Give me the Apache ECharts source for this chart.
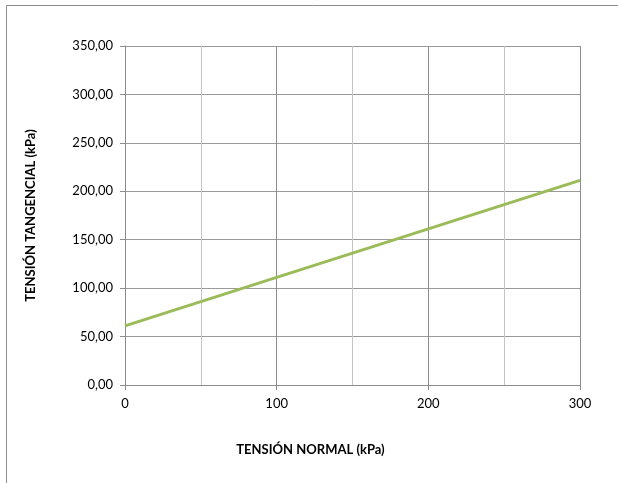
<!DOCTYPE html>
<html>
<head>
<meta charset="utf-8">
<script src="https://cdn.jsdelivr.net/npm/echarts@6/dist/echarts.min.js"></script>
<style>
  html, body { margin: 0; padding: 0; background: #fff; }
  #chart { width: 618px; height: 483px; }
</style>
</head>
<body>
<div id="chart"></div>
<script>
// Shear envelope: normal stress vs. tangential stress (kPa)
const normalStress = [0, 300];
const tangentialStress = [61, 211.3];

const xTitle = 'TENSIÓN NORMAL (kPa)';
const yTitle = 'TENSIÓN TANGENCIAL (kPa)';

const chart = echarts.init(document.getElementById('chart'));
const font = 'Lato, "Open Sans", sans-serif';

chart.setOption({
  animation: false,
  grid: { left: 125, right: 38, top: 46, bottom: 98, containLabel: false },
  graphic: [{
    type: 'rect',
    shape: { x: 6.5, y: 5.5, width: 700, height: 600 },
    style: { fill: 'none', stroke: '#8c8c8c', lineWidth: 1 },
    silent: true
  }],
  xAxis: {
    type: 'value',
    min: 0, max: 300, interval: 100,
    name: xTitle,
    nameLocation: 'middle',
    nameGap: 58,
    nameTextStyle: {
      fontFamily: font, fontWeight: 'bold', fontSize: 13, color: '#000',
      padding: [0, 84, 0, 0]
    },
    axisLine: { show: true, lineStyle: { color: '#8c8c8c', width: 1 } },
    axisTick: { show: true, length: 5, lineStyle: { color: '#8c8c8c' } },
    axisLabel: { fontFamily: font, fontSize: 13, color: '#000', margin: 12 },
    splitLine: { show: true, lineStyle: { color: '#8c8c8c', width: 1 } },
    minorTick: { show: false, splitNumber: 2 },
    minorSplitLine: { show: true, lineStyle: { color: '#c4c4c4', width: 1 } }
  },
  yAxis: {
    type: 'value',
    min: 0, max: 350, interval: 50,
    name: yTitle,
    nameLocation: 'middle',
    nameGap: 88,
    nameRotate: 90,
    nameTextStyle: { fontFamily: font, fontWeight: 'bold', fontSize: 13, color: '#000' },
    axisLine: { show: true, lineStyle: { color: '#8c8c8c', width: 1 } },
    axisTick: { show: true, length: 5, lineStyle: { color: '#8c8c8c' } },
    axisLabel: {
      fontFamily: font, fontSize: 13, color: '#000', margin: 12,
      formatter: v => v.toFixed(2).replace('.', ',')
    },
    splitLine: { show: true, lineStyle: { color: '#9a9a9a', width: 1 } }
  },
  series: [{
    type: 'line',
    data: normalStress.map((x, i) => [x, tangentialStress[i]]),
    showSymbol: false,
    lineStyle: { color: '#9bbb59', width: 3 },
    itemStyle: { color: '#9bbb59' }
  }]
});
</script>
</body>
</html>
